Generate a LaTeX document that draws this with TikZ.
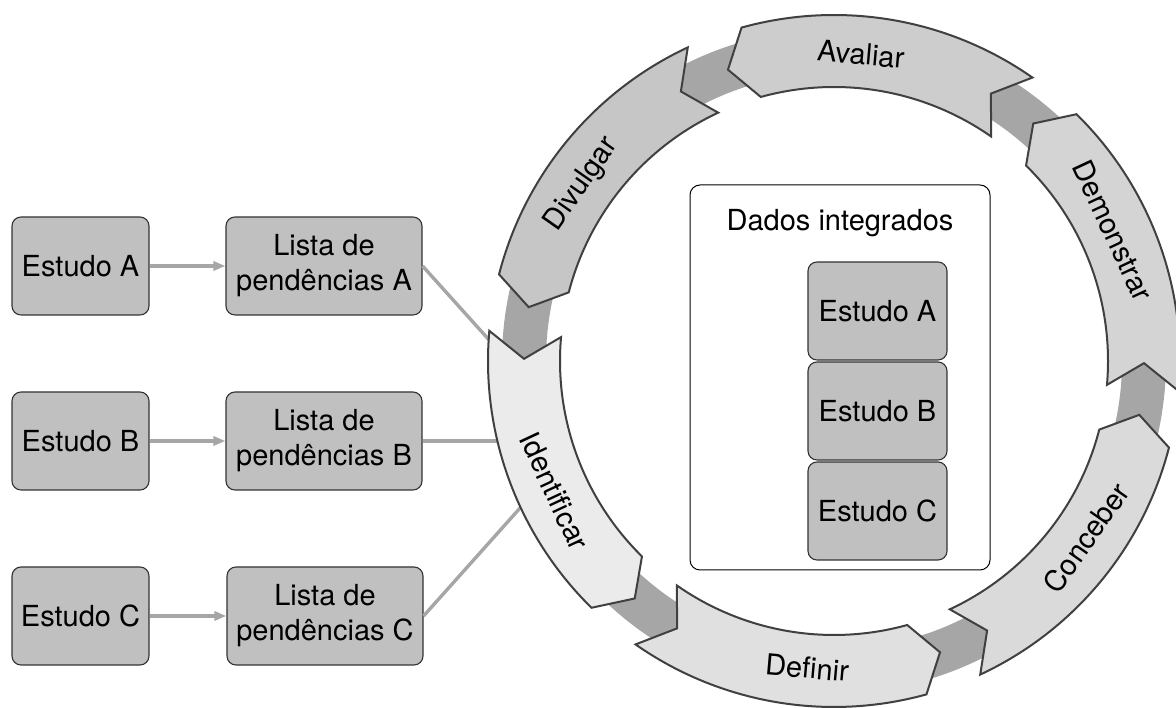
\documentclass[tikz,border=0pt]{standalone}
\usepackage{fontspec}
\setmainfont{TeX Gyre Heros}
\usetikzlibrary{arrows.meta}
\definecolor{band}{HTML}{A6A6A6}
\definecolor{boxfill}{HTML}{C0C0C0}
\definecolor{boxline}{HTML}{333333}
\definecolor{segline}{HTML}{404040}
\definecolor{s1}{HTML}{EBEBEB}
\definecolor{s2}{HTML}{E0E0E0}
\definecolor{s3}{HTML}{DADADA}
\definecolor{s4}{HTML}{D4D4D4}
\definecolor{s5}{HTML}{CDCDCD}
\definecolor{s6}{HTML}{C6C6C6}
\begin{document}
\begin{tikzpicture}[x=1pt,y=1pt,
  txt/.style={font=\fontsize{29}{35}\selectfont},
  box/.style={txt, draw=boxline, fill=boxfill, rounded corners=9pt, line width=1.1pt, minimum height=98pt, inner sep=0pt, align=center},
  conn/.style={draw=band, line width=3.4pt},
  seg/.style={draw=segline, line width=2pt, line join=miter}]
\useasboundingbox (0,0) rectangle (1176,708);
\coordinate (c) at (834,347);
\draw[band, line width=44pt] (c) circle[radius=310];
% left column
\node[box, minimum width=137pt] (ea) at (80.5,442) {Estudo A};
\node[box, minimum width=137pt] (eb) at (80.5,267) {Estudo B};
\node[box, minimum width=137pt] (ec) at (80.5,92) {Estudo C};
\node[box, minimum width=196pt] (la) at (324,442) {Lista de\\pendências A};
\node[box, minimum width=196pt] (lb) at (324,267) {Lista de\\pendências B};
\node[box, minimum width=196pt] (lc) at (325,92) {Lista de\\pendências C};
\coordinate (hub) at (580,267);
\draw[conn, -{Triangle[length=12pt,width=9pt]}] (ea) -- (la);
\draw[conn, -{Triangle[length=12pt,width=9pt]}] (eb) -- (lb);
\draw[conn, -{Triangle[length=12pt,width=9pt]}] (ec) -- (lc);
\draw[conn, shorten >=45pt] (la.east) -- (hub);
\draw[conn, shorten >=45pt] (lb.east) -- (hub);
\draw[conn, shorten >=45pt] (lc.east) -- (hub);
% cycle segments
\begin{scope}[shift={(c)}]
\foreach \t/\lab/\col/\rot [count=\i] in {175/Identificar/s1/-65, 235/Definir/s2/-5, 295/Conceber/s3/55, 355/Demonstrar/s4/-65, 55/Avaliar/s5/-5, 115/Divulgar/s6/55}{
  \pgfmathsetmacro{\n}{\t+4.6}
  \pgfmathsetmacro{\h}{\t+50.5}
  \pgfmathsetmacro{\p}{\t+55}
  \pgfmathsetmacro{\m}{\t+30}
  \path[seg, fill=\col] (\t:346) -- (\n:310) -- (\t:274) arc[start angle=\t, end angle=\h, radius=274] -- (\p:310) -- (\h:346) arc[start angle=\h, end angle=\t, radius=346] -- cycle;
  \node[txt, rotate=\rot] (seg\i) at (\m:308) {\lab};
}
\end{scope}
% central box
\node[draw=black, line width=1pt, rounded corners=10pt, minimum width=300pt, minimum height=385pt] (dados) at (840,330.5) {};
\node[txt] (dadost) at (840,485) {Dados integrados};
\node[box, minimum width=139pt] (da) at (877.5,397) {Estudo A};
\node[box, minimum width=139pt] (db) at (877.5,297) {Estudo B};
\node[box, minimum width=139pt] (dc) at (877.5,197) {Estudo C};
\end{tikzpicture}
\end{document}
